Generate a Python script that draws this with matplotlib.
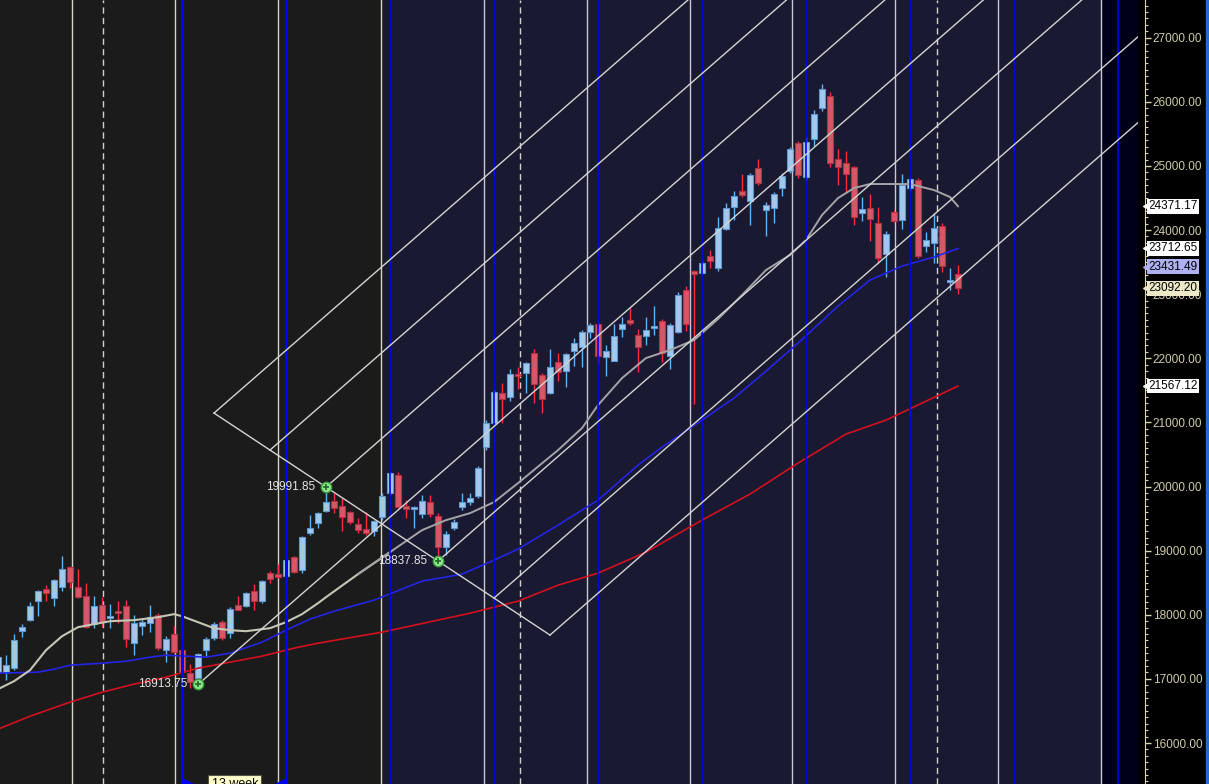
import numpy as np
import matplotlib
matplotlib.use("Agg")
import matplotlib.pyplot as plt
from matplotlib.transforms import blended_transform_factory
from matplotlib.patches import Rectangle

plt.rcParams['font.family'] = ['Liberation Sans', 'DejaVu Sans']

# weekly candles (index 0 = first, partly hidden, candle)
opens = [17105, 17105, 17167, 17744, 17916, 18212, 18400, 18259, 18431, 18743,
         18431, 18290, 17854, 18150, 17947, 18056, 18134, 17557, 17822, 17869,
         17994, 17448, 17698, 17448, 17089, 17011, 17448, 17635, 17885, 17713,
         18150, 18134, 18368, 18212, 18649, 18634, 18602, 18899, 18696, 19273,
         19429, 19617, 19773, 19695, 19601, 19414, 19335, 19304, 19523, 19897,
         20178, 19695, 19648, 19570, 19757, 19538, 19055, 19351, 19679, 19757,
         19850, 20615, 20989, 21457, 21395, 21754, 21769, 22081, 21738, 21457,
         21941, 21800, 22112, 22175, 22409, 22534, 22019, 21956, 22456, 22596,
         22362, 22346, 22471, 22580, 22034, 22409, 23064, 23360, 23329, 23594,
         23407, 24016, 24359, 24608, 24452, 24967, 24312, 24343, 24655, 24920,
         25357, 24827, 25420, 25903, 26090, 25108, 25045, 24983, 24265, 24343,
         24109, 23626, 24281, 24156, 24655, 24780, 23750, 23797, 24062, 23189,
         23314]
highs = [17370, 17370, 17698, 17854, 18197, 18384, 18462, 18556, 18914, 18758,
         18712, 18493, 18290, 18275, 18166, 18212, 18228, 17994, 17947, 18150,
         18025, 17666, 17822, 17479, 17230, 17401, 17651, 17885, 17916, 18119,
         18290, 18353, 18478, 18540, 18680, 18790, 18883, 18914, 19226, 19554,
         19601, 19991.85, 19897, 19819, 19617, 19507, 19601, 19476, 19897, 20225,
         20225, 19788, 19695, 19866, 19866, 19585, 19304, 19492, 19897, 19897,
         20318, 21036, 21504, 21613, 21832, 21863, 21941, 22144, 21769, 22144,
         22081, 22081, 22315, 22440, 22549, 22549, 22206, 22534, 22643, 22799,
         22456, 22643, 22814, 22612, 22549, 23033, 23126, 23376, 23516, 23688,
         24203, 24421, 24608, 24874, 24889, 25108, 24437, 24593, 24889, 25295,
         25388, 25451, 25872, 26277, 26153, 25264, 25232, 24998, 24515, 24562,
         24359, 23984, 24312, 24874, 24811, 24811, 23969, 24265, 24109, 23407,
         23454]
lows = [17058, 16980, 17136, 17651, 17900, 17978, 18212, 18134, 18368, 18415,
        18259, 17791, 17791, 17807, 17791, 17869, 17495, 17370, 17682, 17729,
        17448, 17261, 17401, 17089, 16855, 16913.75, 17339, 17604, 17604, 17635,
        18072, 18119, 18072, 18181, 18493, 18580, 18602, 18649, 18649, 19242,
        19351, 19601, 19585, 19304, 19414, 19273, 19242, 19226, 19476, 19866,
        19663, 19507, 19351, 19507, 19523, 18837.85, 18930, 19320, 19632, 19710,
        19819, 20568, 20958, 20989, 21332, 21520, 21457, 21301, 21145, 21442,
        21644, 21551, 21878, 21863, 22315, 21925, 21722, 21956, 22331, 22518,
        21785, 22206, 22362, 21941, 21832, 22393, 22424, 21286, 23314, 23407,
        23360, 24000, 24156, 24515, 24078, 24702, 23906, 24109, 24530, 24889,
        24811, 24780, 25310, 25856, 24983, 24702, 24577, 24078, 24140, 23828,
        23485, 23267, 24125, 24016, 24624, 23563, 23657, 23485, 23345, 23064,
        23002]
closes = [17339, 17214, 17604, 17807, 18134, 18368, 18337, 18540, 18712, 18509,
          18275, 17807, 18134, 17885, 17978, 18025, 17620, 17869, 17885, 17963,
          17479, 17620, 17417, 17105, 16949, 17386, 17620, 17854, 17635, 18088,
          18072, 18337, 18212, 18524, 18556, 18587, 18852, 18665, 19211, 19351,
          19585, 19757, 19663, 19523, 19445, 19320, 19273, 19460, 19850, 20209,
          19679, 19648, 19679, 19773, 19570, 19055, 19258, 19445, 19757, 19819,
          20287, 20989, 21473, 21364, 21754, 21722, 21925, 21598, 21364, 21863,
          21785, 22066, 22237, 22409, 22518, 22034, 22112, 22346, 22534, 22549,
          22175, 22440, 22502, 22081, 22518, 22986, 22534, 23314, 23485, 23516,
          24031, 24343, 24530, 24546, 24858, 24733, 24390, 24562, 24842, 25264,
          24858, 25373, 25810, 26200, 25045, 24983, 24874, 24203, 24328, 24172,
          23563, 23938, 24140, 24702, 24796, 23594, 23844, 24031, 23438, 23220,
          23092.20]

# moving averages (candle index, value)
gray_idx = [0, 2, 4, 6, 8, 10, 12, 14, 17, 20, 22, 23, 25, 27, 29, 31, 34, 36, 38, 40,
            41, 45, 49, 53, 56, 59, 62, 65, 70, 73, 75, 78, 81, 84, 87, 90, 93, 96, 99,
            101, 103, 105, 107, 109, 114, 116, 117, 119, 120]
gray_val = [16840, 16964, 17136, 17448, 17666, 17807, 17854, 17900, 17916, 17963, 18010,
            17978, 17885, 17791, 17760, 17744, 17791, 17885, 18010, 18181, 18275, 18634,
            18977, 19320, 19476, 19585, 19757, 20053, 20568, 20911, 21270, 21691, 22004,
            22128, 22284, 22612, 22986, 23376, 23610, 23844, 24234, 24499, 24655, 24718,
            24718, 24655, 24624, 24515, 24371.17]
blue_idx = [0, 5, 7, 9, 13, 16, 19, 21, 26, 29, 33, 36, 39, 42, 47, 53, 58, 62, 65, 70,
            75, 80, 83, 88, 92, 96, 100, 105, 109, 113, 117, 120]
blue_val = [17089, 17105, 17152, 17214, 17245, 17276, 17339, 17370, 17339, 17401, 17573,
            17760, 17932, 18056, 18228, 18524, 18634, 18852, 19024, 19398, 19788, 20334,
            20615, 21036, 21379, 21800, 22237, 22814, 23220, 23438, 23579, 23712.65]
red_idx = [0, 4, 9, 13, 17, 21, 25, 29, 33, 37, 40, 48, 59, 65, 70, 75, 81, 88, 94, 100,
           106, 111, 120]
red_val = [16216, 16418, 16637, 16793, 16918, 17027, 17167, 17261, 17355, 17479, 17557,
           17729, 18025, 18212, 18462, 18649, 18977, 19476, 19882, 20365, 20818, 21036,
           21567.12]

# pitchfork pivots
pivot_idx = [25, 41, 55]
pivot_val = [16913.75, 19991.85, 18837.85]
pivot_txt = ["16913.75", "19991.85", "18837.85"]

# right scale labels
tag_vals = [24371.17, 23712.65, 23431.49, 23092.20, 21567.12]
tag_cols = ["white", "white", "#aeb0f2", "#ece8c8", "white"]

# time cycles (in weeks)
cycle90_start, cycle90_len = 9.31, 90 / 7
cycle365_start, cycle365_len = 13.07, 365 / 7
cycle13_start, cycle13_len = 23, 13
session_split = 48.1  # grey background ends here

fig = plt.figure(figsize=(12.09, 7.84), dpi=100, facecolor="black")
ax = fig.add_axes([0, 0, 1138 / 1209, 1])
ax.set_facecolor("#000019")
ax.set_xlim(0.25, 142.5)
ax.set_ylim(15361, 27588)

ax.axvspan(-5, session_split, color="#1b1b1b", zorder=0, lw=0)
ax.axvspan(session_split, 137.9, color="#191931", zorder=0, lw=0)

# vertical cycle lines
k = 0
while cycle90_start + k * cycle90_len < 143:
    xv = cycle90_start + k * cycle90_len
    ax.axvline(xv, color="#d4d4c8" if xv < session_split else "#c8c8d4", lw=1, zorder=1)
    k += 1
k = 0
while cycle365_start + k * cycle365_len < 143:
    ln = ax.axvline(cycle365_start + k * cycle365_len, color="#d2d2cc", lw=1, zorder=1)
    ln.set_dashes([4.5, 3])
    k += 1
k = 0
while cycle13_start + k * cycle13_len < 143:
    ax.axvline(cycle13_start + k * cycle13_len, color="#0000ff",
               lw=2.2 if k < 2 else 1.2, zorder=6)
    k += 1

# candles
o = np.array(opens, float)
h = np.array(highs, float)
l = np.array(lows, float)
c = np.array(closes, float)
x = np.arange(len(o))
up = c >= o
dn = ~up
ax.vlines(x[up], l[up], h[up], color="#5cb6ff", lw=1, zorder=3)
ax.vlines(x[dn], l[dn], h[dn], color="#ff2b3b", lw=1, zorder=3)
ax.bar(x[up], np.maximum(c[up] - o[up], 14), bottom=o[up], width=0.74,
       color="#a3c9ea", edgecolor="#5f98cf", lw=0.8, zorder=4)
ax.bar(x[dn], np.maximum(o[dn] - c[dn], 14), bottom=c[dn], width=0.74,
       color="#d7566a", edgecolor="#b43043", lw=0.8, zorder=4)

# moving averages
ax.plot(red_idx, red_val, color="#d4101f", lw=1.2, zorder=5)
ax.plot(blue_idx, blue_val, color="#2424e6", lw=1.2, zorder=5)
g_idx = np.array(gray_idx)
g_val = np.array(gray_val)
left = g_idx <= 49
ax.plot(g_idx[left], g_val[left], color="#c6c6b6", lw=1.5, zorder=5)
ax.plot(g_idx[g_idx >= 45], g_val[g_idx >= 45], color="#a4a4a8", lw=1.4, zorder=5)

# pitchfork
ax_, ay = pivot_idx[0], pivot_val[0]
bx, by = pivot_idx[1], pivot_val[1]
cx, cy = pivot_idx[2], pivot_val[2]
mx, my = (bx + cx) / 2, (by + cy) / 2
slope = (my - ay) / (mx - ax_)
x_end = 160
fork_col = "#d4d4d2"
for t in [-1, -0.5, 0, 1, 1.5, 2]:
    px, py = bx + t * (cx - bx), by + t * (cy - by)
    ax.plot([px, x_end], [py, py + slope * (x_end - px)], color=fork_col, lw=1, zorder=6)
ax.plot([ax_, x_end], [ay, ay + slope * (x_end - ax_)], color=fork_col, lw=1, zorder=6)
ax.plot([bx - (cx - bx), bx + 2 * (cx - bx)], [by - (cy - by), by + 2 * (cy - by)],
        color=fork_col, lw=1, zorder=6)

for px, py, txt in zip(pivot_idx, pivot_val, pivot_txt):
    ax.plot(px, py, "o", ms=7.5, mfc="#8ee88e", mec="#3c9c3c", mew=1, zorder=8)
    ax.plot(px, py, "+", ms=5, color="#206820", mew=1.2, zorder=9)
    ax.text(px - 1.3, py, txt, color="#e6e6e6", fontsize=8.5, ha="right", va="center",
            zorder=9)

# bottom cycle tool handles
ax.text(29.6, 15455, "13 week", fontsize=9, color="black", ha="center", va="top",
        bbox=dict(boxstyle="square,pad=0.25", fc="#ffffcc", ec="#555544", lw=0.8),
        zorder=9, clip_on=True)
ax.plot([cycle13_start + 1.0], [15330], marker=">", ms=10, color="#0000ff", zorder=9)
ax.plot([cycle13_start + cycle13_len - 1.0], [15330], marker="<", ms=10, color="#0000ff",
        zorder=9)

# right scale
for s in ["top", "left", "bottom"]:
    ax.spines[s].set_visible(False)
ax.spines["right"].set_position(("outward", 5))
ax.spines["right"].set_color("#d8d4b0")
ax.xaxis.set_visible(False)
ax.yaxis.tick_right()
ax.set_yticks(np.arange(16000, 27001, 1000))
ax.set_yticks(np.arange(15400, 27600, 100), minor=True)
ax.set_yticklabels([f"{v:.2f}" for v in np.arange(16000, 27001, 1000)])
ax.tick_params(axis="y", which="major", colors="#d8d4b0", labelcolor="#cfcca6",
               length=4, width=1, pad=1.5, labelsize=8.5)
ax.tick_params(axis="y", which="minor", colors="#d8d4b0", length=2.5, width=0.8)

trans = blended_transform_factory(ax.transAxes, ax.transData)
for v, col in zip(tag_vals, tag_cols):
    ax.text(1.0092, v, f"{v:.2f}", transform=trans, fontsize=8.5, color="black",
            ha="left", va="center", clip_on=False, zorder=10,
            bbox=dict(boxstyle="square,pad=0.12", fc=col, ec="none"))
    ax.plot([1.0066], [v], marker="<", ms=5, color=col, transform=trans,
            clip_on=False, zorder=10)

fig.patches.append(Rectangle((1206 / 1209, 0), 3 / 1209, 1, transform=fig.transFigure,
                             color="#1f6fc8", zorder=0))

fig.savefig("out.png", dpi=100, facecolor="black")
